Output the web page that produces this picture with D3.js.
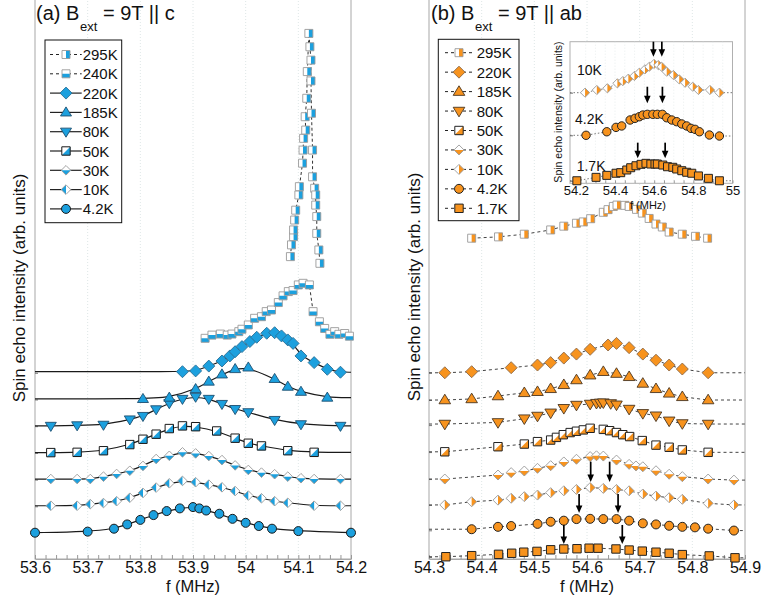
<!DOCTYPE html>
<html>
<head>
<meta charset="utf-8">
<script src="https://cdn.jsdelivr.net/npm/d3@7"></script>
<style>
  body { margin: 0; background: #fff; }
  svg text { font-family: "Liberation Sans", Arial, sans-serif; fill: #111; }
</style>
</head>
<body>
<svg id="chart" width="763" height="609"></svg>
<script>
// ---------- (a) B || c : frequency (MHz) and stacked spin-echo intensity ----------
const fA295 = [54.085, 54.087, 54.091, 54.091, 54.093, 54.095, 54.101, 54.102, 54.108, 54.109, 54.110, 54.114, 54.113, 54.116, 54.117, 54.120, 54.122, 54.124, 54.124, 54.125, 54.127, 54.127, 54.131, 54.133, 54.133, 54.135, 54.135, 54.139, 54.141];
const yA295 = [11.25, 11.69, 12.00, 12.25, 12.62, 12.99, 13.56, 13.87, 14.75, 15.24, 15.68, 15.99, 16.49, 17.18, 18.18, 19.61, 19.11, 18.61, 17.83, 16.62, 15.24, 14.24, 13.81, 13.56, 13.18, 12.75, 12.12, 11.50, 11.00];
const fA240 = [53.923, 53.936, 53.952, 53.965, 53.974, 53.987, 53.993, 54.005, 54.017, 54.030, 54.039, 54.049, 54.062, 54.071, 54.081, 54.090, 54.100, 54.109, 54.121, 54.128, 54.140, 54.150, 54.160, 54.169, 54.177, 54.188, 54.197];
const yA240 = [8.19, 8.31, 8.35, 8.31, 8.35, 8.44, 8.53, 8.69, 8.94, 9.00, 9.19, 9.25, 9.53, 9.78, 9.94, 9.98, 10.19, 10.25, 10.19, 9.19, 8.81, 8.56, 8.34, 8.44, 8.34, 8.37, 8.27];
const fA220 = [53.88, 53.905, 53.93, 53.955, 53.97, 53.98, 53.993, 54.008, 54.021, 54.04, 54.055, 54.068, 54.08, 54.09, 54.105, 54.13, 54.155, 54.18];
const yA220 = [6.94, 6.97, 7.15, 7.34, 7.53, 7.69, 7.88, 8.07, 8.23, 8.38, 8.40, 8.28, 8.13, 8.00, 7.53, 7.28, 7.03, 6.92];
const fA185 = [53.805, 53.855, 53.905, 53.93, 53.955, 53.98, 54.005, 54.055, 54.08, 54.105, 54.155];
const yA185 = [5.92, 5.97, 6.29, 6.57, 6.84, 7.04, 7.10, 6.67, 6.38, 6.19, 5.97];
const fA80 = [53.63, 53.68, 53.73, 53.78, 53.805, 53.83, 53.855, 53.88, 53.905, 53.93, 53.955, 53.98, 54.005, 54.055, 54.105, 54.18];
const yA80 = [4.91, 4.93, 4.95, 5.15, 5.28, 5.53, 5.76, 5.92, 6.00, 5.92, 5.73, 5.54, 5.42, 5.13, 4.97, 4.91];
const fA50 = [53.63, 53.68, 53.73, 53.78, 53.805, 53.83, 53.855, 53.88, 53.905, 53.945, 53.98, 54.005, 54.03, 54.08, 54.13];
const yA50 = [3.91, 3.92, 3.98, 4.21, 4.41, 4.60, 4.81, 4.91, 4.88, 4.72, 4.45, 4.26, 4.16, 3.98, 3.92];
const fA30 = [53.63, 53.68, 53.705, 53.73, 53.755, 53.78, 53.805, 53.83, 53.855, 53.88, 53.905, 53.93, 53.955, 53.98, 54.005, 54.03, 54.055, 54.08, 54.105, 54.13, 54.18];
const yA30 = [2.92, 2.92, 2.92, 3.01, 3.11, 3.23, 3.41, 3.67, 3.79, 3.92, 3.88, 3.78, 3.63, 3.43, 3.26, 3.16, 3.10, 3.01, 2.95, 2.92, 2.92];
const fA10 = [53.63, 53.68, 53.705, 53.73, 53.755, 53.78, 53.805, 53.83, 53.855, 53.88, 53.905, 53.93, 53.955, 53.98, 54.005, 54.03, 54.055, 54.08, 54.13, 54.18];
const yA10 = [1.92, 1.92, 1.98, 2.02, 2.09, 2.22, 2.40, 2.60, 2.76, 2.85, 2.80, 2.71, 2.61, 2.47, 2.30, 2.20, 2.09, 2.03, 1.92, 1.92];
const fA4 = [53.6, 53.7, 53.75, 53.775, 53.8, 53.825, 53.85, 53.875, 53.9, 53.912, 53.925, 53.95, 53.975, 54.0, 54.025, 54.05, 54.1, 54.2];
const yA4 = [0.91, 0.95, 1.06, 1.22, 1.39, 1.57, 1.72, 1.82, 1.87, 1.82, 1.74, 1.62, 1.43, 1.28, 1.16, 1.06, 0.97, 0.91];
const tickA = [0.9, 1.9, 2.9, 3.9, 4.9, 5.9, 6.9];

// ---------- (b) B || ab ----------
const fB295 = [54.381, 54.432, 54.481, 54.531, 54.556, 54.580, 54.593, 54.607, 54.631, 54.640, 54.650, 54.657, 54.672, 54.680, 54.694, 54.705, 54.718, 54.731, 54.743, 54.756, 54.781, 54.806, 54.829];
const yB295 = [11.94, 11.99, 12.09, 12.25, 12.39, 12.50, 12.55, 12.67, 12.91, 13.01, 13.13, 13.18, 13.17, 13.13, 13.02, 12.88, 12.68, 12.47, 12.36, 12.17, 12.09, 12.01, 11.94];
const fB220 = [54.33, 54.381, 54.456, 54.506, 54.531, 54.556, 54.58, 54.606, 54.64, 54.656, 54.68, 54.706, 54.731, 54.756, 54.781, 54.83];
const yB220 = [6.90, 6.94, 7.09, 7.19, 7.28, 7.45, 7.60, 7.78, 7.94, 8.00, 7.84, 7.60, 7.37, 7.19, 7.04, 6.90];
const fB185 = [54.33, 54.381, 54.431, 54.481, 54.506, 54.531, 54.556, 54.58, 54.606, 54.631, 54.656, 54.68, 54.706, 54.731, 54.756, 54.781, 54.83];
const yB185 = [5.88, 5.92, 6.03, 6.15, 6.19, 6.30, 6.45, 6.63, 6.81, 6.94, 6.87, 6.75, 6.50, 6.30, 6.13, 6.00, 5.88];
const fB80 = [54.33, 54.431, 54.481, 54.506, 54.531, 54.556, 54.58, 54.606, 54.618, 54.625, 54.631, 54.645, 54.656, 54.68, 54.706, 54.731, 54.756, 54.781, 54.83];
const yB80 = [4.98, 5.04, 5.18, 5.28, 5.40, 5.57, 5.69, 5.73, 5.76, 5.77, 5.78, 5.75, 5.70, 5.54, 5.38, 5.29, 5.10, 5.00, 4.98];
const fB50 = [54.33, 54.431, 54.481, 54.506, 54.531, 54.542, 54.555, 54.568, 54.58, 54.593, 54.606, 54.631, 54.643, 54.656, 54.668, 54.681, 54.705, 54.731, 54.756, 54.781, 54.83];
const yB50 = [3.94, 4.13, 4.23, 4.32, 4.38, 4.48, 4.58, 4.66, 4.71, 4.76, 4.82, 4.78, 4.73, 4.66, 4.58, 4.51, 4.36, 4.19, 4.11, 4.01, 3.92];
const fB30 = [54.33, 54.431, 54.456, 54.481, 54.506, 54.531, 54.556, 54.58, 54.606, 54.618, 54.631, 54.656, 54.68, 54.693, 54.706, 54.731, 54.756, 54.781, 54.83, 54.879];
const yB30 = [2.92, 3.07, 3.16, 3.22, 3.32, 3.42, 3.56, 3.66, 3.76, 3.79, 3.78, 3.63, 3.47, 3.41, 3.38, 3.23, 3.10, 3.01, 2.92, 2.88];
const fB10 = [54.33, 54.381, 54.431, 54.456, 54.481, 54.506, 54.531, 54.556, 54.58, 54.606, 54.631, 54.656, 54.68, 54.706, 54.731, 54.756, 54.781, 54.83, 54.879];
const yB10 = [1.95, 2.07, 2.13, 2.20, 2.26, 2.32, 2.41, 2.48, 2.53, 2.60, 2.57, 2.53, 2.48, 2.36, 2.28, 2.22, 2.16, 2.01, 1.95];
const fB4 = [54.381, 54.431, 54.456, 54.506, 54.531, 54.556, 54.58, 54.606, 54.631, 54.656, 54.68, 54.706, 54.731, 54.756, 54.781, 54.805, 54.83, 54.879];
const yB4 = [1.04, 1.13, 1.16, 1.24, 1.32, 1.36, 1.42, 1.43, 1.42, 1.42, 1.36, 1.26, 1.22, 1.17, 1.13, 1.11, 1.06, 0.99];
const fB1 = [54.332, 54.381, 54.432, 54.457, 54.480, 54.505, 54.531, 54.556, 54.581, 54.604, 54.621, 54.655, 54.680, 54.705, 54.731, 54.756, 54.781, 54.832, 54.881];
const yB1 = [0.01, 0.05, 0.10, 0.14, 0.18, 0.21, 0.27, 0.30, 0.31, 0.33, 0.33, 0.30, 0.26, 0.22, 0.18, 0.14, 0.09, 0.04, -0.03];
const tickB = [0, 1.0, 1.95, 2.92, 3.93, 4.94, 5.88, 6.9];
// peak-splitting arrows: frequency, tail and tip heights
const arrowBf = [54.607, 54.643, 54.585, 54.659, 54.556, 54.667];
const arrowBtop = [3.57, 3.57, 2.36, 2.36, 1.20, 1.20];
const arrowBtip = [2.81, 2.81, 1.65, 1.65, 0.49, 0.49];

// ---------- inset of (b): low-temperature spectra ----------
const fC10 = [54.247, 54.307, 54.361, 54.412, 54.440, 54.468, 54.499, 54.524, 54.553, 54.575, 54.599, 54.621, 54.638, 54.664, 54.698, 54.728, 54.758, 54.797, 54.826, 54.885, 54.933];
const yC10 = [6.40, 6.59, 6.71, 7.06, 7.22, 7.39, 7.58, 7.81, 8.05, 8.23, 8.43, 8.35, 8.23, 7.88, 7.65, 7.34, 7.10, 6.82, 6.59, 6.59, 6.40];
const fC4 = [54.252, 54.358, 54.405, 54.434, 54.477, 54.502, 54.524, 54.542, 54.565, 54.593, 54.616, 54.642, 54.664, 54.690, 54.715, 54.741, 54.766, 54.788, 54.809, 54.831, 54.882, 54.933];
const yC4 = [3.39, 3.64, 3.95, 4.05, 4.47, 4.59, 4.70, 4.82, 4.87, 4.87, 4.87, 4.87, 4.63, 4.47, 4.35, 4.19, 4.05, 3.88, 3.81, 3.64, 3.41, 3.34];
const fC1 = [54.205, 54.303, 54.358, 54.405, 54.429, 54.460, 54.480, 54.507, 54.533, 54.558, 54.583, 54.604, 54.616, 54.644, 54.668, 54.695, 54.715, 54.741, 54.766, 54.792, 54.826, 54.877, 54.933];
const yC1 = [0.18, 0.42, 0.56, 0.71, 0.75, 0.94, 1.10, 1.24, 1.34, 1.41, 1.36, 1.36, 1.36, 1.29, 1.17, 1.13, 1.01, 0.89, 0.78, 0.71, 0.52, 0.35, 0.18];
const tickC = [0.18, 3.39, 6.4];
const arrowCf = [54.596, 54.639, 54.565, 54.642, 54.516, 54.656];
const arrowCtop = [10.0, 10.0, 6.82, 6.82, 2.87, 2.87];
const arrowCtip = [8.94, 8.94, 5.65, 5.65, 1.77, 1.77];

const ticksA = [53.6, 53.7, 53.8, 53.9, 54.0, 54.1, 54.2];
const ticksB = [54.3, 54.4, 54.5, 54.6, 54.7, 54.8, 54.9];
const ticksC = [54.2, 54.4, 54.6, 54.8, 55.0];

// ---------- styling ----------
const BLUE = "#1ca0de", ORANGE = "#f7931e";
const FONT_AX = 16;

const svg = d3.select("#chart");
const defs = svg.append("defs");
// half-marker clip regions in marker-local coordinates
defs.append("clipPath").attr("id", "cl-right").append("rect").attr("x", 0).attr("y", -20).attr("width", 20).attr("height", 40);
defs.append("clipPath").attr("id", "cl-left").append("rect").attr("x", -20).attr("y", -20).attr("width", 20).attr("height", 40);
defs.append("clipPath").attr("id", "cl-bottom").append("rect").attr("x", -20).attr("y", 0).attr("width", 40).attr("height", 20);
defs.append("clipPath").attr("id", "cl-diag").append("polygon").attr("points", "20,-20 20,20 -20,20");

function shapePath(type, r) {
  switch (type) {
    case "square": return `M${-r},${-r}H${r}V${r}H${-r}Z`;
    case "diamond": return `M0,${-r}L${r},0L0,${r}L${-r},0Z`;
    case "tri-up": return `M0,${-r}L${r},${r * 0.65}L${-r},${r * 0.65}Z`;
    case "tri-down": return `M0,${r}L${r},${-r * 0.65}L${-r},${-r * 0.65}Z`;
    default: return `M${-r},0A${r},${r} 0 1,0 ${r},0A${r},${r} 0 1,0 ${-r},0Z`;
  }
}

function marker(g, x, y, s) {
  const m = g.append("g").attr("transform", `translate(${x},${y})`);
  const d = shapePath(s.shape, s.r);
  if (s.split) {
    m.append("path").attr("d", d).attr("fill", "#fff");
    m.append("path").attr("d", d).attr("fill", s.color).attr("clip-path", `url(#cl-${s.split})`);
  } else {
    m.append("path").attr("d", d).attr("fill", s.color);
  }
  m.append("path").attr("d", d).attr("fill", "none").attr("stroke", s.stroke).attr("stroke-width", s.sw || 0.9);
}

// ---------- scales ----------
const y = d3.scaleLinear().domain([-0.075, 21]).range([559, 559 - 21.075 * 26.7]);
const xA = d3.scaleLinear().domain([53.6, 54.2]).range([35, 351]);
const xB = d3.scaleLinear().domain([54.3, 54.9]).range([429, 745]);
const xC = d3.scaleLinear().domain([54.17, 55.0]).range([570, 732.5]);
const yC = d3.scaleLinear().domain([0, 10]).range([183.3, 41.7]);

// ---------- panel frame, grid and axes ----------
function panel(x, majors, tickVals) {
  const g = svg.append("g");
  const [x0, x1] = x.range();
  g.selectAll(".grid").data(majors.slice(1, -1)).join("line")
    .attr("x1", d => x(d)).attr("x2", d => x(d)).attr("y1", -5).attr("y2", 559)
    .attr("stroke", "#d6dfdf").attr("stroke-width", 0.8).attr("stroke-dasharray", "1,2");
  g.append("rect").attr("x", x0).attr("y", -5).attr("width", x1 - x0).attr("height", 564)
    .attr("fill", "none").attr("stroke", "#a8a8a8").attr("stroke-width", 1);
  const minors = d3.range(0, 31).map(i => +(majors[0] + i * 0.02).toFixed(2));
  const ax = d3.axisBottom(x).tickValues(minors).tickSizeInner(-4).tickSizeOuter(0).tickPadding(3)
    .tickFormat(d => majors.some(m => Math.abs(m - d) < 1e-6) ? String(+d.toFixed(1)) : "");
  const ag = g.append("g").attr("transform", "translate(0,559)").call(ax);
  ag.select(".domain").attr("stroke", "#a8a8a8");
  ag.selectAll(".tick line").attr("stroke", "#999");
  ag.selectAll(".tick text").style("font-size", FONT_AX + "px").attr("fill", "#111")
    .style("font-family", '"Liberation Sans", Arial, sans-serif');
  const ay = d3.axisRight(y).tickValues(tickVals).tickSize(3).tickFormat("");
  const yg = g.append("g").attr("transform", `translate(${x0},0)`).call(ay);
  yg.select(".domain").remove();
  yg.selectAll(".tick line").attr("stroke", "#777");
  return g;
}
const gA = panel(xA, ticksA, tickA);
const gB = panel(xB, ticksB, tickB);

// ---------- series definitions ----------
const seriesA = [
  { name: "295K", f: fA295, v: yA295, shape: "square", split: "right", r: 4, color: BLUE, stroke: "#9a9a9a", line: "dash" },
  { name: "240K", f: fA240, v: yA240, shape: "square", split: "bottom", r: 4, color: BLUE, stroke: "#9a9a9a", line: "dash" },
  { name: "220K", f: fA220, v: yA220, shape: "diamond", r: 6, color: BLUE, stroke: "#2a6f96", line: "fit" },
  { name: "185K", f: fA185, v: yA185, shape: "tri-up", r: 5.5, color: BLUE, stroke: "#1d4f70", line: "fit" },
  { name: "80K", f: fA80, v: yA80, shape: "tri-down", r: 5.5, color: BLUE, stroke: "#1d4f70", line: "fit" },
  { name: "50K", f: fA50, v: yA50, shape: "square", split: "diag", r: 4.2, color: BLUE, stroke: "#1a1a1a", sw: 1, line: "fit" },
  { name: "30K", f: fA30, v: yA30, shape: "diamond", split: "bottom", r: 4.8, color: BLUE, stroke: "#999", line: "fit" },
  { name: "10K", f: fA10, v: yA10, shape: "diamond", split: "left", r: 4.8, color: BLUE, stroke: "#999", line: "fit" },
  { name: "4.2K", f: fA4, v: yA4, shape: "circle", r: 4.5, color: BLUE, stroke: "#1a1a1a", sw: 1, line: "fit" }
];
const seriesB = [
  { name: "295K", f: fB295, v: yB295, shape: "square", split: "right", r: 4, color: ORANGE, stroke: "#9a9a9a", ext: false },
  { name: "220K", f: fB220, v: yB220, shape: "diamond", r: 6, color: ORANGE, stroke: "#8c6a4a", ext: true },
  { name: "185K", f: fB185, v: yB185, shape: "tri-up", r: 5.8, color: ORANGE, stroke: "#4a3520", ext: true },
  { name: "80K", f: fB80, v: yB80, shape: "tri-down", r: 5.8, color: ORANGE, stroke: "#4a3520", ext: true },
  { name: "50K", f: fB50, v: yB50, shape: "square", split: "diag", r: 4.2, color: ORANGE, stroke: "#222", sw: 1, ext: true },
  { name: "30K", f: fB30, v: yB30, shape: "diamond", split: "bottom", r: 5, color: ORANGE, stroke: "#999", ext: true },
  { name: "10K", f: fB10, v: yB10, shape: "diamond", split: "right", r: 5, color: ORANGE, stroke: "#999", ext: true },
  { name: "4.2K", f: fB4, v: yB4, shape: "circle", r: 4.5, color: ORANGE, stroke: "#222", sw: 1, ext: true },
  { name: "1.7K", f: fB1, v: yB1, shape: "square", r: 4.2, color: ORANGE, stroke: "#222", sw: 1, ext: true }
];

const pts = s => s.f.map((f, i) => ({ f, v: s.v[i] }));

// ---------- panel (a) ----------
const lineLin = x => d3.line().x(d => x(d.f)).y(d => y(d.v));
seriesA.slice().reverse().forEach(s => {
  const p = pts(s);
  if (s.line === "fit") {
    const full = [{ f: xA.domain()[0], v: p[0].v }, ...p, { f: xA.domain()[1], v: p[p.length - 1].v }];
    gA.append("path").attr("d", d3.line().x(d => xA(d.f)).y(d => y(d.v)).curve(d3.curveBasis)(full))
      .attr("fill", "none").attr("stroke", "#1a1a1a").attr("stroke-width", 1.2);
  } else {
    gA.append("path").attr("d", lineLin(xA)(p))
      .attr("fill", "none").attr("stroke", "#333").attr("stroke-width", 1).attr("stroke-dasharray", "3,2.5");
  }
});
seriesA.slice().reverse().forEach(s => {
  pts(s).forEach(d => marker(gA, xA(d.f), y(d.v), s));
});

// ---------- panel (b) ----------
seriesB.slice().reverse().forEach(s => {
  let p = pts(s);
  if (s.ext) p = [{ f: xB.domain()[0], v: p[0].v }, ...p, { f: xB.domain()[1], v: p[p.length - 1].v }];
  gB.append("path").attr("d", lineLin(xB)(p))
    .attr("fill", "none").attr("stroke", "#444").attr("stroke-width", 1).attr("stroke-dasharray", "3,3");
});
seriesB.slice().reverse().forEach(s => {
  pts(s).forEach(d => marker(gB, xB(d.f), y(d.v), s));
});

function arrow(g, x, yTop, yTip) {
  g.append("line").attr("x1", x).attr("x2", x).attr("y1", yTop).attr("y2", yTip - 5)
    .attr("stroke", "#000").attr("stroke-width", 1.7);
  g.append("path").attr("d", `M${x},${yTip}L${x - 3.3},${yTip - 7.5}L${x + 3.3},${yTip - 7.5}Z`).attr("fill", "#000");
}
arrowBf.forEach((f, i) => arrow(gB, xB(f), y(arrowBtop[i]), y(arrowBtip[i])));

// ---------- legends ----------
function legend(series, box, lineX, markX, textX, y0, step, dashedAll) {
  const g = svg.append("g");
  g.append("rect").attr("x", box[0]).attr("y", box[1]).attr("width", box[2]).attr("height", box[3])
    .attr("fill", "#fff").attr("stroke", "#111").attr("stroke-width", 1);
  series.forEach((s, i) => {
    const yy = y0 + i * step;
    const dashed = dashedAll || s.line === "dash";
    g.append("line").attr("x1", lineX[0]).attr("x2", lineX[1]).attr("y1", yy).attr("y2", yy)
      .attr("stroke", "#222").attr("stroke-width", dashed ? 1 : 1.2)
      .attr("stroke-dasharray", dashed ? "3,3" : null);
    marker(g, markX, yy, s);
    g.append("text").attr("x", textX).attr("y", yy + 5.5).style("font-size", "15px").text(s.name);
  });
}
legend(seriesA, [45, 40, 76.7, 182.7], [50, 81.7], 66, 82.7, 54.5, 19.3, false);
legend(seriesB, [438.3, 39.3, 80.7, 181.4], [445, 473], 459, 476.7, 52.7, 19.45, true);

// ---------- inset ----------
const gC = svg.append("g");
gC.append("rect").attr("x", 570).attr("y", 41.7).attr("width", 162.5).attr("height", 141.6)
  .attr("fill", "#fff").attr("stroke", "#b0b0b0").attr("stroke-width", 1);
const gridC = d3.range(1, 17).map(i => +(54.2 + i * 0.05).toFixed(2)).filter(d => d < 55);
gC.selectAll(".gc").data(gridC).join("line")
  .attr("x1", d => xC(d)).attr("x2", d => xC(d)).attr("y1", 41.7).attr("y2", 183.3)
  .attr("stroke", "#dfe6e6").attr("stroke-width", 0.7).attr("stroke-dasharray", "1,2");
const axC = d3.axisBottom(xC).tickValues(d3.range(0, 17).map(i => +(54.2 + i * 0.05).toFixed(2)))
  .tickSizeInner(-3).tickSizeOuter(0).tickPadding(2)
  .tickFormat(d => ticksC.some(m => Math.abs(m - d) < 1e-6) ? String(+d.toFixed(1)) : "");
const agC = gC.append("g").attr("transform", "translate(0,183.3)").call(axC);
agC.select(".domain").remove();
agC.selectAll(".tick line").attr("stroke", "#999");
agC.selectAll(".tick text").style("font-size", "13px").attr("fill", "#111")
  .style("font-family", '"Liberation Sans", Arial, sans-serif');
const ayC = d3.axisRight(yC).tickValues(tickC).tickSize(3).tickFormat("");
const ygC = gC.append("g").attr("transform", "translate(570,0)").call(ayC);
ygC.select(".domain").remove();
ygC.selectAll(".tick line").attr("stroke", "#777");

const seriesC = [
  { f: fC10, v: yC10, shape: "diamond", split: "right", r: 4.6, color: ORANGE, stroke: "#999" },
  { f: fC4, v: yC4, shape: "circle", r: 4.2, color: ORANGE, stroke: "#222", sw: 1 },
  { f: fC1, v: yC1, shape: "square", r: 4, color: ORANGE, stroke: "#222", sw: 1 }
];
seriesC.forEach(s => {
  const p = pts(s);
  const full = [{ f: xC.domain()[0], v: p[0].v }, ...p, { f: xC.domain()[1], v: p[p.length - 1].v }];
  gC.append("path").attr("d", d3.line().x(d => xC(d.f)).y(d => yC(d.v))(full))
    .attr("fill", "none").attr("stroke", "#666").attr("stroke-width", 0.9).attr("stroke-dasharray", "1.5,2");
});
seriesC.forEach(s => pts(s).forEach(d => marker(gC, xC(d.f), yC(d.v), s)));
arrowCf.forEach((f, i) => arrow(gC, xC(f), yC(arrowCtop[i]), yC(arrowCtip[i])));
gC.append("text").attr("x", 577).attr("y", 75).style("font-size", "14px").text("10K");
gC.append("text").attr("x", 575).attr("y", 124).style("font-size", "14px").text("4.2K");
gC.append("text").attr("x", 576.7).attr("y", 170.7).style("font-size", "14px").text("1.7K");
gC.append("text").attr("x", 648).attr("y", 209).attr("text-anchor", "middle").style("font-size", "11px").text("f (MHz)");
gC.append("text").attr("transform", "translate(562,112) rotate(-90)").attr("text-anchor", "middle")
  .style("font-size", "10.5px").text("Spin echo intensity (arb. units)");

// ---------- titles and axis labels ----------
function title(x0, main, rest) {
  svg.append("text").attr("x", x0).attr("y", 20).style("font-size", "20px").text(main);
  svg.append("text").attr("x", x0 + 44).attr("y", 31).style("font-size", "13px").text("ext");
  svg.append("text").attr("x", x0 + 67).attr("y", 20).style("font-size", "20px").text(rest);
}
title(36, "(a) B", "= 9T || c");
title(431, "(b) B", "= 9T || ab");

svg.append("text").attr("x", 193).attr("y", 592).attr("text-anchor", "middle").style("font-size", "16.5px").text("f (MHz)");
svg.append("text").attr("x", 587).attr("y", 592).attr("text-anchor", "middle").style("font-size", "16.5px").text("f (MHz)");
svg.append("text").attr("transform", "translate(25,288) rotate(-90)").attr("text-anchor", "middle")
  .style("font-size", "17px").text("Spin echo intensity (arb. units)");
svg.append("text").attr("transform", "translate(420,287) rotate(-90)").attr("text-anchor", "middle")
  .style("font-size", "17px").text("Spin echo intensity (arb. units)");
</script>
</body>
</html>
